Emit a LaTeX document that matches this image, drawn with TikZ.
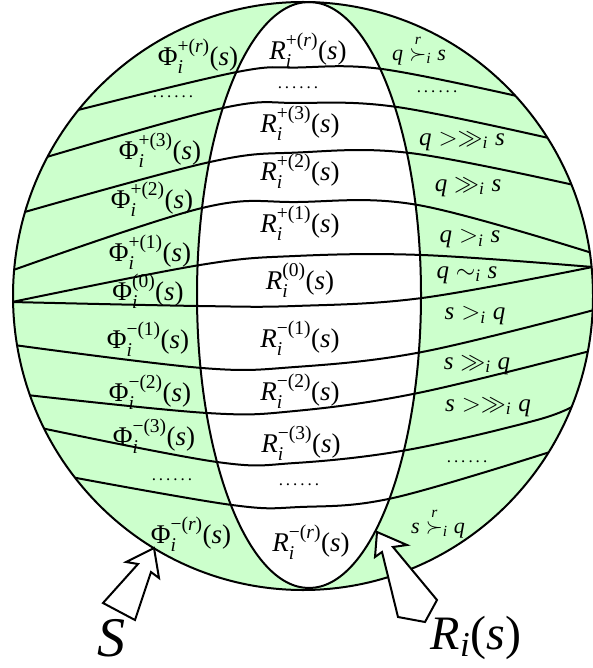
\documentclass[tikz,border=0pt]{standalone}
\usepackage{fix-cm}
\usepackage{amsmath}
\usepackage{fontspec}
\setmainfont{Liberation Serif}
\DeclareMathSizes{27}{27}{19.5}{14}
\DeclareMathSizes{25}{25}{17.5}{12.5}
\DeclareMathSizes{22}{22}{15.5}{11}
\DeclareMathSizes{48}{48}{35}{25}
\definecolor{lgreen}{RGB}{204,255,204}
\newcommand\tv[1]{\text{\itshape #1}}
\newcommand\ofs{\text{(}\tv{s}\text{)}}
\newcommand\Plab[1]{$\text{Φ}_{\tv{i}}^{\text{#1}}\ofs$}
\newcommand\Rlab[1]{$\tv{R}_{\tv{i}}^{\text{#1}}\ofs$}
\newcommand\sixdots{.\kern3pt.\kern3pt.\kern3pt.\kern3pt.\kern3pt.}
\tikzset{
  lab/.style={inner sep=0pt, font=\fontsize{27}{31}\selectfont},
  rel/.style={inner sep=0pt, font=\fontsize{25}{29}\selectfont},
  relsm/.style={inner sep=0pt, font=\fontsize{22}{26}\selectfont},
  dotlab/.style={inner sep=0pt, font=\fontsize{17}{19}\selectfont},
  sepline/.style={line width=2pt},
  outline/.style={line width=2pt},
  blockarrow/.style={fill=white, draw=black, line width=2pt, line join=miter},
}
\begin{document}
\begin{tikzpicture}[x=1pt,y=-1pt]
\useasboundingbox (0,0) rectangle (593,668);
% regions
\fill[lgreen] (303,296) ellipse [x radius=290pt, y radius=294pt];
\fill[white] (309,295) ellipse [x radius=112pt, y radius=293pt];
% separating lines
\begin{scope}
\clip (303,296) ellipse [x radius=290pt, y radius=294pt];
\draw[sepline] plot[smooth,tension=0.6] coordinates {(76,110.5) (237,72) (298,67.5) (382,69) (519,96.5)};
\draw[sepline] plot[smooth,tension=0.6] coordinates {(45,157.5) (223,108) (298,103) (397,107) (553,139)};
\draw[sepline] plot[smooth,tension=0.6] coordinates {(23,212.5) (210,162) (298,152.5) (410,153) (576,185.5)};
\draw[sepline] plot[smooth,tension=0.6] coordinates {(12,270.5) (202,208) (298,202) (418,205) (592,253)};
\draw[sepline] plot[smooth,tension=0.6] coordinates {(12,302) (200,265) (295,256) (422,255) (592.5,267)};
\draw[sepline] plot[smooth,tension=0.6] coordinates {(12,302) (199,306) (295,306) (422,298) (592.5,267)};
\draw[sepline] plot[smooth,tension=0.6] coordinates {(14,345) (202,368) (295,367) (422,352) (594,310)};
\draw[sepline] plot[smooth,tension=0.6] coordinates {(27,395) (207,413) (295,411) (418,393) (590,351)};
\draw[sepline] plot[smooth,tension=0.6] coordinates {(41,428) (217,462) (295,463) (407,450) (537,420) (577,404)};
\draw[sepline] plot[smooth,tension=0.6] coordinates {(71,477) (232,505) (300,507) (393,498) (553,451)};
\end{scope}
% outlines
\draw[outline] (309,295) ellipse [x radius=112pt, y radius=293pt];
\draw[outline] (303,296) ellipse [x radius=290pt, y radius=294pt];
% left labels
\node[lab] (pr) at (198,56) {\Plab{+(\textit{r})}};
\node[dotlab] (dl1) at (173,97) {\sixdots};
\node[lab] (p3) at (160,150) {\Plab{+(3)}};
\node[lab] (p2) at (152,199) {\Plab{+(2)}};
\node[lab] (p1) at (150,252) {\Plab{+(1)}};
\node[lab] (p0) at (148,291) {\Plab{(0)}};
\node[lab] (pm1) at (148,339) {\Plab{−(1)}};
\node[lab] (pm2) at (150,392) {\Plab{−(2)}};
\node[lab] (pm3) at (154,436) {\Plab{−(3)}};
\node[dotlab] (dl2) at (172,480) {\sixdots};
\node[lab] (pmr) at (191,534) {\Plab{−(\textit{r})}};
% middle labels
\node[lab] (rr) at (308,50) {\Rlab{+(\textit{r})}};
\node[dotlab] (dm1) at (298,88) {\sixdots};
\node[lab] (r3) at (300,123) {\Rlab{+(3)}};
\node[lab] (r2) at (300,171) {\Rlab{+(2)}};
\node[lab] (r1) at (300,223) {\Rlab{+(1)}};
\node[lab] (r0) at (300,280) {\Rlab{(0)}};
\node[lab] (rm1) at (300,338) {\Rlab{−(1)}};
\node[lab] (rm2) at (300,391) {\Rlab{−(2)}};
\node[lab] (rm3) at (301,443) {\Rlab{−(3)}};
\node[dotlab] (dm2) at (299,485) {\sixdots};
\node[lab] (rmr) at (311,542) {\Rlab{−(\textit{r})}};
% right labels
\node[relsm] (qr) at (419,50) {$\tv{q}\overset{\tv{r}}{\succ}_{\tv{i}}\tv{s}$};
\node[dotlab] (dr1) at (437,92) {\sixdots};
\node[rel] (q3) at (462,141) {$\tv{q}>\gg_{\tv{i}}\tv{s}$};
\node[rel] (q2) at (468,187) {$\tv{q}\gg_{\tv{i}}\tv{s}$};
\node[rel] (q1) at (470,239) {$\tv{q}>_{\tv{i}}\tv{s}$};
\node[rel] (q0) at (467,275) {$\tv{q}\sim_{\tv{i}}\tv{s}$};
\node[rel] (s1) at (475,316) {$\tv{s}>_{\tv{i}}\tv{q}$};
\node[rel] (s2) at (477,365) {$\tv{s}\gg_{\tv{i}}\tv{q}$};
\node[rel] (s3) at (488,407) {$\tv{s}>\gg_{\tv{i}}\tv{q}$};
\node[dotlab] (dr2) at (467,462) {\sixdots};
\node[relsm] (sr) at (438,523) {$\tv{s}\overset{\tv{r}}{\succ}_{\tv{i}}\tv{q}$};
% block arrows
\draw[blockarrow] (154,548) -- (126,562) -- (138,564) -- (103,603) -- (135,620) -- (151,572) -- (159,578) -- cycle;
\draw[blockarrow] (377,532) -- (375,557) -- (382,552) -- (398,617) -- (425,622) -- (437,600) -- (393,547) -- (407,545) -- cycle;
\node[inner sep=0pt, font=\fontsize{56}{60}\selectfont\itshape] (S) at (111,638) {S};
\node[inner sep=0pt, font=\fontsize{48}{52}\selectfont] (Ri) at (476,638) {$\tv{R}_{\tv{i}}\ofs$};
\end{tikzpicture}
\end{document}
